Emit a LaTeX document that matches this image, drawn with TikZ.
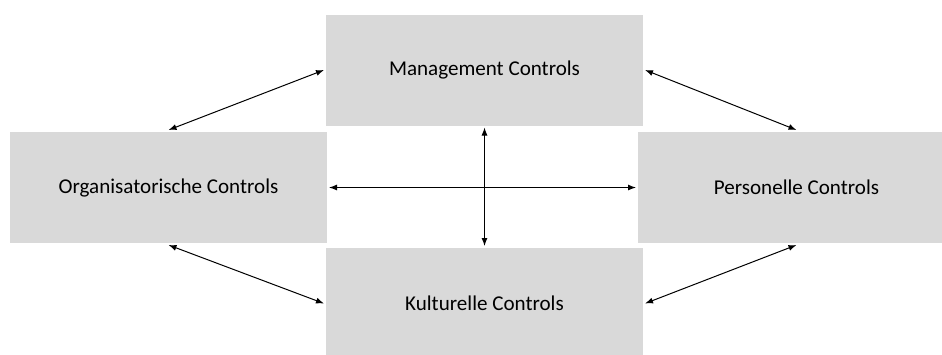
\documentclass[tikz,border=0pt]{standalone}
\usepackage{fontspec}
\setmainfont{Carlito}
\usetikzlibrary{arrows.meta}
\tikzset{
  ctrlbox/.style={fill=boxgray, minimum width=237.75pt, minimum height=83.25pt,
    inner sep=0pt, outer sep=1.5pt, font=\fontsize{15.8}{19}\selectfont},
  link/.style={{Latex[length=6pt,width=4.5pt]}-{Latex[length=6pt,width=4.5pt]}, line width=0.75pt}
}
\definecolor{boxgray}{HTML}{D9D9D9}
\begin{document}
\begin{tikzpicture}[x=0.75pt,y=-0.75pt]
                \clip (0,0) rectangle (942,354);
                \useasboundingbox (0,0) rectangle (942,354);
                \node[ctrlbox] (mgmt) at (484.5,70) {Management Controls};
                \node[ctrlbox] (org) at (168.5,187.5) {Organisatorische Controls};
                \node[ctrlbox] (pers) at (796.5,187.5) {Personelle Controls};
                \node[ctrlbox] (kult) at (484.5,303.5) {Kulturelle Controls};
                \draw[link] (org.north) -- (mgmt.west);
                \draw[link] (mgmt.east) -- (pers.north);
                \draw[link] (org.south) -- (kult.west);
                \draw[link] (kult.east) -- (pers.south);
                \draw[link] (org.east) -- (pers.west);
                \draw[link] (mgmt.south) -- (kult.north);
            \end{tikzpicture}
\end{document}
